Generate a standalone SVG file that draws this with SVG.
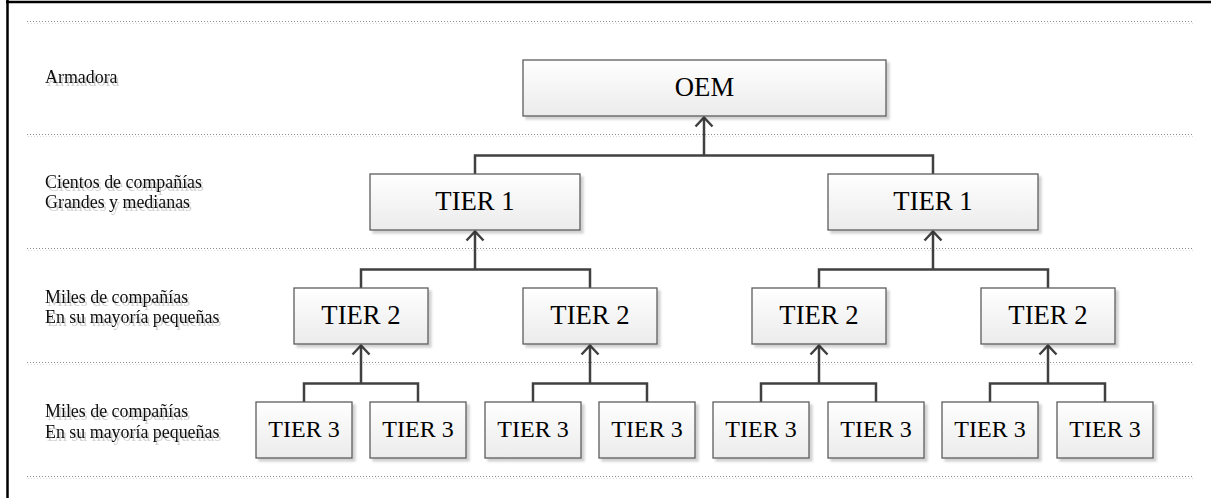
<svg xmlns="http://www.w3.org/2000/svg" width="1211" height="498" viewBox="0 0 1211 498">
<style>
.sep{stroke:#8c8c8c;stroke-width:1;stroke-dasharray:1 2;fill:none}
.sep2{stroke:#dcdcdc;stroke-width:1;stroke-dasharray:1 2;fill:none}
.lbl{font-family:"Liberation Serif","Times New Roman",serif;font-size:17.9px;fill:#111}
.box rect{fill:url(#g);stroke:#5c5c5c;stroke-width:1.3}
.box text{font-family:"Liberation Serif","Times New Roman",serif;font-size:26.7px;fill:#000;text-anchor:middle}
.t3 text{font-size:24px}
.con{fill:none;stroke:#404040;stroke-width:2.5}
</style>
<defs>
<linearGradient id="g" x1="0" y1="0" x2="0" y2="1">
<stop offset="0" stop-color="#ffffff"/>
<stop offset="1" stop-color="#ebebeb"/>
</linearGradient>
<filter id="sh" x="-10%" y="-10%" width="130%" height="140%">
<feDropShadow dx="3" dy="3" stdDeviation="0.8" flood-color="#000" flood-opacity="0.18"/>
</filter>
<filter id="tsh" x="-10%" y="-30%" width="130%" height="180%">
<feDropShadow dx="2" dy="3" stdDeviation="0.6" flood-color="#000" flood-opacity="0.18"/>
</filter>
<marker id="arr" markerUnits="userSpaceOnUse" markerWidth="24" markerHeight="24" viewBox="-12 -12 24 24" refX="0" refY="0" orient="auto">
<path d="M-9,-8.5 L0,0 L-9,8.5" fill="none" stroke="#404040" stroke-width="2.5"/>
</marker>
</defs>
<rect x="0" y="0" width="1211" height="498" fill="#fff"/>
<g id="frame">
<line x1="7.5" y1="0" x2="7.5" y2="498" stroke="#000" stroke-width="2.5"/>
<line x1="6" y1="2" x2="1211" y2="2" stroke="#000" stroke-width="2.5"/>
</g>
<g id="separators">
<line class="sep" x1="27" y1="21.5" x2="1193" y2="21.5"/><line class="sep2" x1="28" y1="23.5" x2="1194" y2="23.5"/>
<line class="sep" x1="27" y1="134.5" x2="1193" y2="134.5"/><line class="sep2" x1="28" y1="136.5" x2="1194" y2="136.5"/>
<line class="sep" x1="27" y1="248.5" x2="1193" y2="248.5"/><line class="sep2" x1="28" y1="250.5" x2="1194" y2="250.5"/>
<line class="sep" x1="27" y1="362.5" x2="1193" y2="362.5"/><line class="sep2" x1="28" y1="364.5" x2="1194" y2="364.5"/>
<line class="sep" x1="27" y1="476.5" x2="1193" y2="476.5"/><line class="sep2" x1="28" y1="478.5" x2="1194" y2="478.5"/>
</g>
<g id="labels" filter="url(#tsh)">
<text class="lbl" x="45" y="83">Armadora</text>
<text class="lbl" x="45" y="188">Cientos de compañías</text>
<text class="lbl" x="45" y="208">Grandes y medianas</text>
<text class="lbl" x="45" y="303">Miles de compañías</text>
<text class="lbl" x="45" y="323">En su mayoría pequeñas</text>
<text class="lbl" x="45" y="417">Miles de compañías</text>
<text class="lbl" x="45" y="438">En su mayoría pequeñas</text>
</g>
<g id="connectors">
<path class="con" d="M475,174 V155.5 H933 V174 M704,155.5 V117.5" marker-end="url(#arr)"/>
<path class="con" d="M361,288 V269.5 H590 V288 M475,269.5 V231.5" marker-end="url(#arr)"/>
<path class="con" d="M819,288 V269.5 H1048 V288 M933,269.5 V231.5" marker-end="url(#arr)"/>
<path class="con" d="M304,402 V383.5 H418 V402 M361,383.5 V345.5" marker-end="url(#arr)"/>
<path class="con" d="M533,402 V383.5 H647 V402 M590,383.5 V345.5" marker-end="url(#arr)"/>
<path class="con" d="M761,402 V383.5 H876 V402 M819,383.5 V345.5" marker-end="url(#arr)"/>
<path class="con" d="M990,402 V383.5 H1105 V402 M1048,383.5 V345.5" marker-end="url(#arr)"/>
</g>
<g id="oem" class="box"><rect x="523" y="60" width="363" height="56" filter="url(#sh)"/><text x="704.5" y="96">OEM</text></g>
<g id="tier1a" class="box"><rect x="370" y="174" width="210" height="56" filter="url(#sh)"/><text x="475" y="210">TIER 1</text></g>
<g id="tier1b" class="box"><rect x="828" y="174" width="210" height="56" filter="url(#sh)"/><text x="933" y="210">TIER 1</text></g>
<g id="tier2a" class="box"><rect x="294" y="288" width="134" height="56" filter="url(#sh)"/><text x="361" y="324">TIER 2</text></g>
<g id="tier2b" class="box"><rect x="523" y="288" width="134" height="56" filter="url(#sh)"/><text x="590" y="324">TIER 2</text></g>
<g id="tier2c" class="box"><rect x="752" y="288" width="134" height="56" filter="url(#sh)"/><text x="819" y="324">TIER 2</text></g>
<g id="tier2d" class="box"><rect x="981" y="288" width="134" height="56" filter="url(#sh)"/><text x="1048" y="324">TIER 2</text></g>
<g id="tier3a" class="box t3"><rect x="256" y="402" width="96" height="56" filter="url(#sh)"/><text x="304" y="437">TIER 3</text></g>
<g id="tier3b" class="box t3"><rect x="370" y="402" width="96" height="56" filter="url(#sh)"/><text x="418" y="437">TIER 3</text></g>
<g id="tier3c" class="box t3"><rect x="485" y="402" width="96" height="56" filter="url(#sh)"/><text x="533" y="437">TIER 3</text></g>
<g id="tier3d" class="box t3"><rect x="599" y="402" width="96" height="56" filter="url(#sh)"/><text x="647" y="437">TIER 3</text></g>
<g id="tier3e" class="box t3"><rect x="713" y="402" width="96" height="56" filter="url(#sh)"/><text x="761" y="437">TIER 3</text></g>
<g id="tier3f" class="box t3"><rect x="828" y="402" width="96" height="56" filter="url(#sh)"/><text x="876" y="437">TIER 3</text></g>
<g id="tier3g" class="box t3"><rect x="942" y="402" width="96" height="56" filter="url(#sh)"/><text x="990" y="437">TIER 3</text></g>
<g id="tier3h" class="box t3"><rect x="1057" y="402" width="96" height="56" filter="url(#sh)"/><text x="1105" y="437">TIER 3</text></g>
</svg>
